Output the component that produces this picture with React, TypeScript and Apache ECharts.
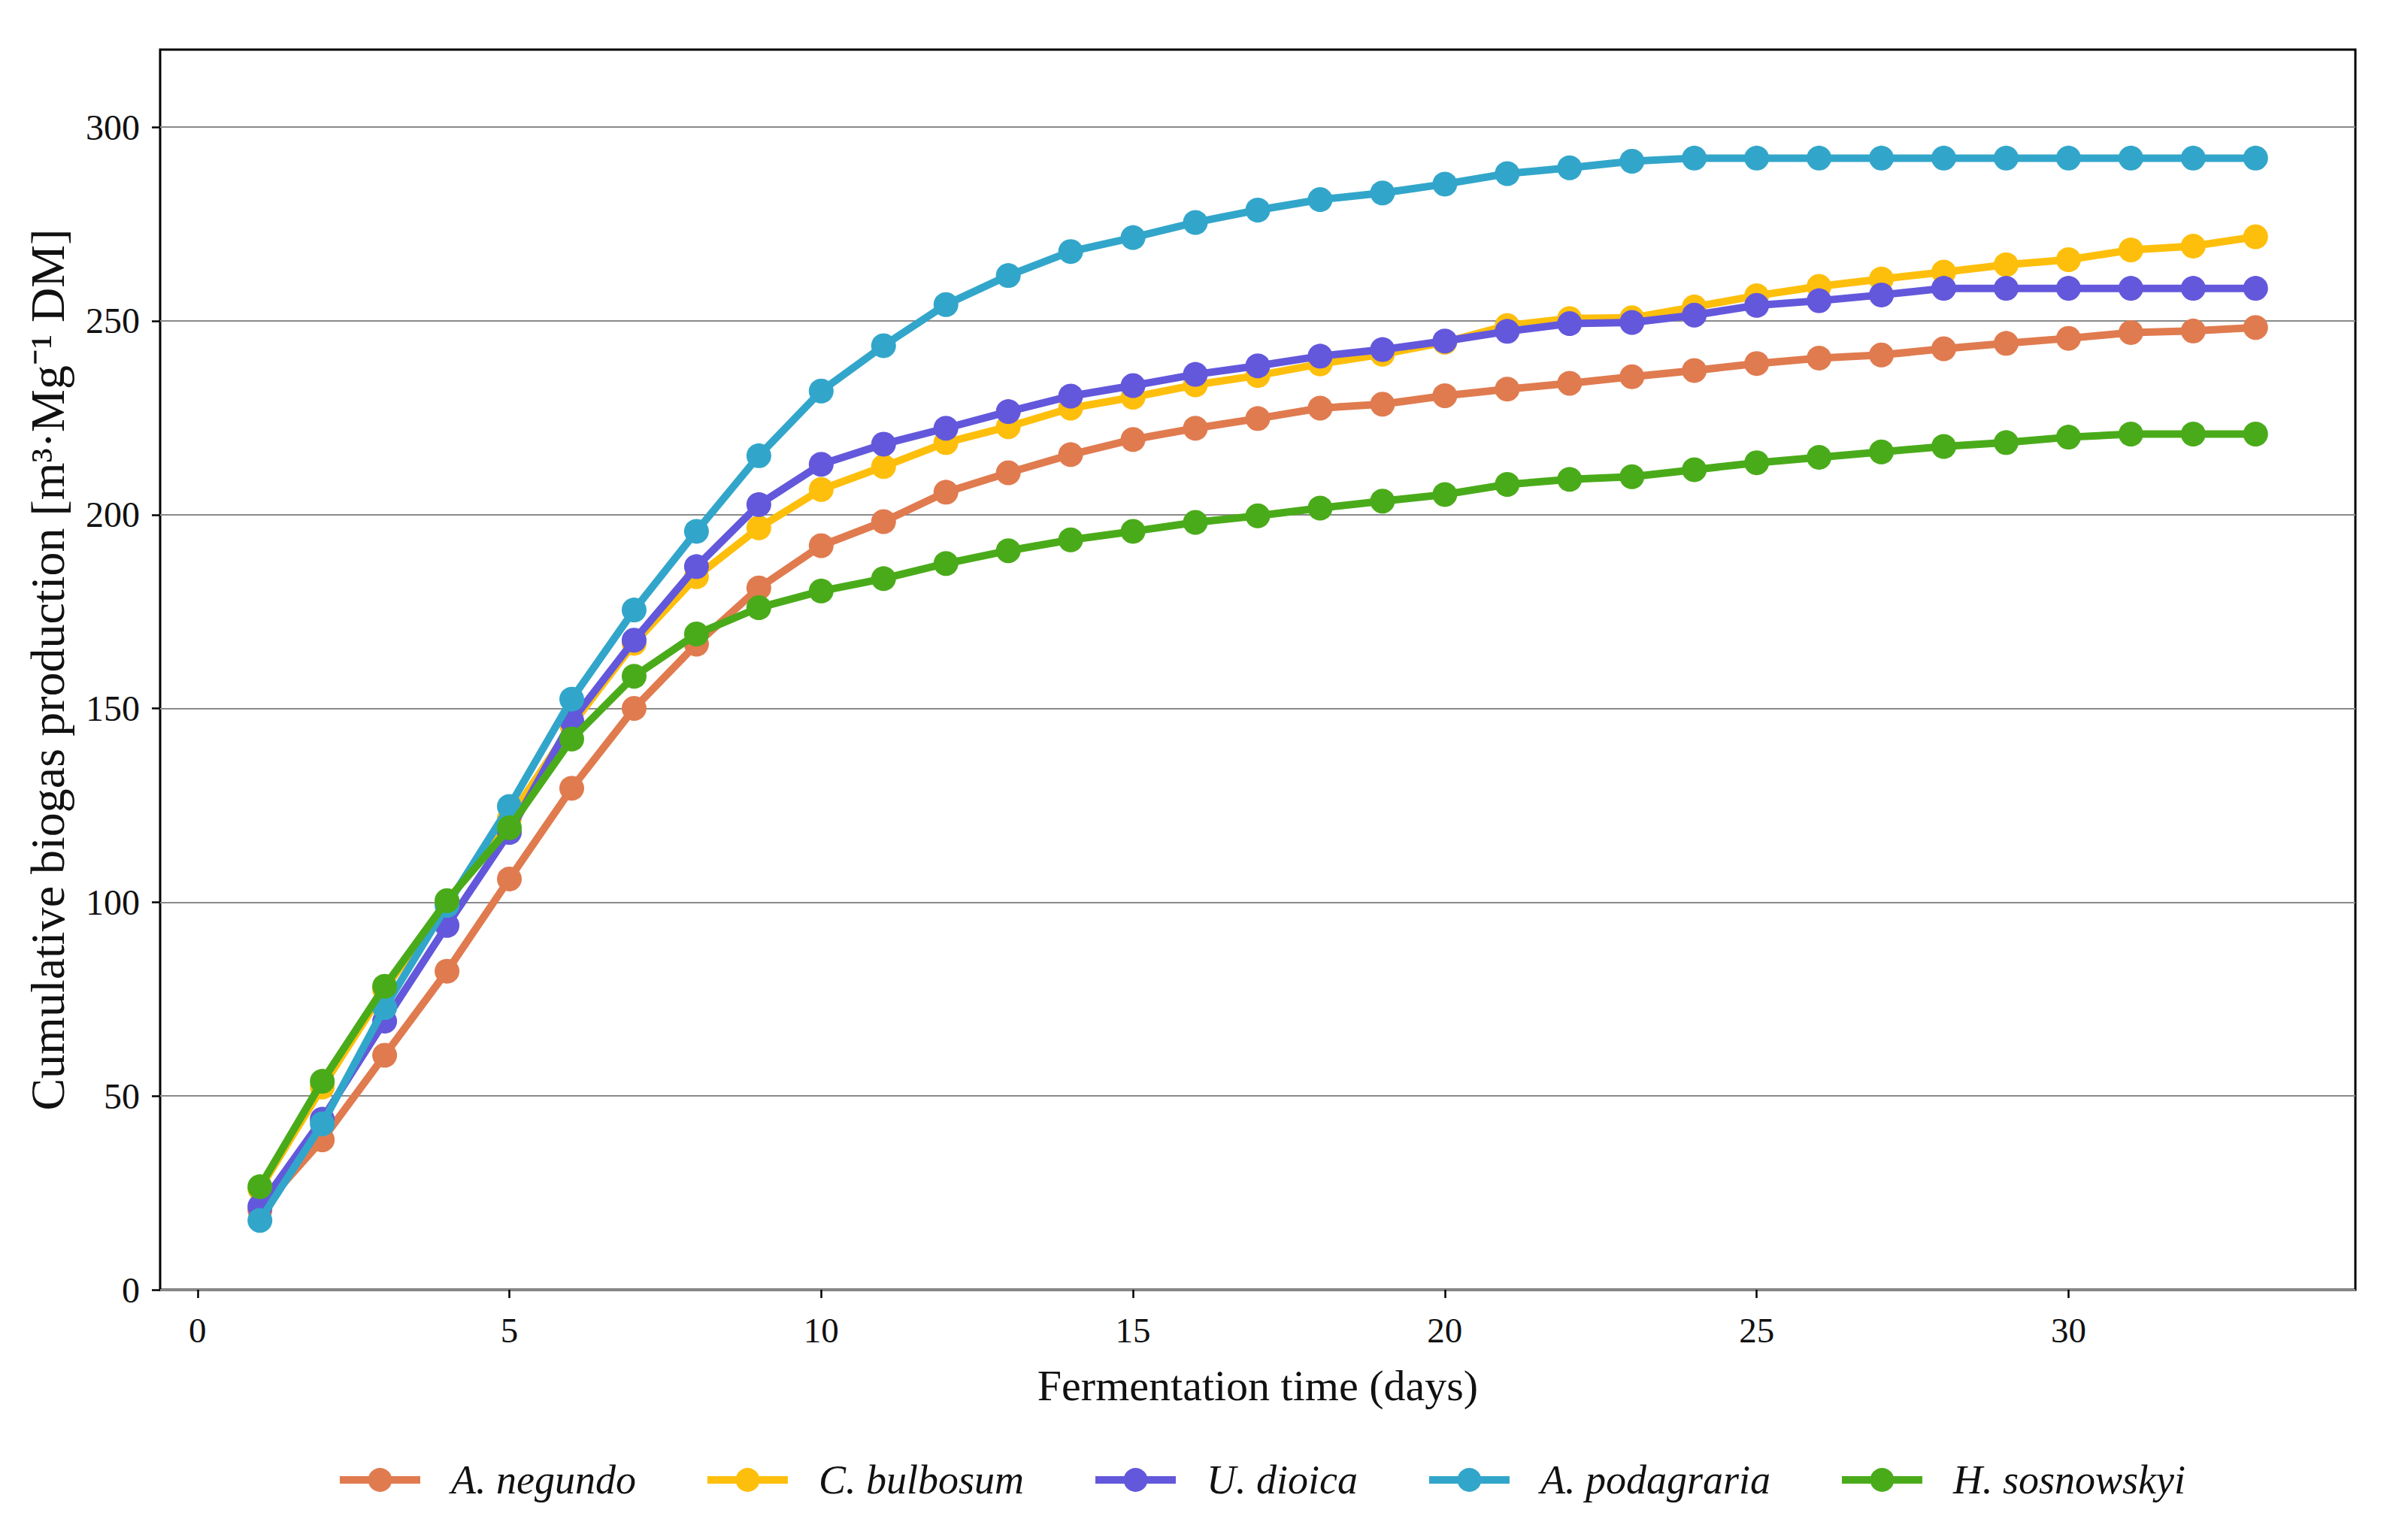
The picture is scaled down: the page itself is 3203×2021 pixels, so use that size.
import React, { useEffect, useRef } from "react";
import * as echarts from "echarts";

const days = [1, 2, 3, 4, 5, 6, 7, 8, 9, 10, 11, 12, 13, 14, 15, 16, 17, 18, 19, 20, 21, 22, 23, 24, 25, 26, 27, 28, 29, 30, 31, 32, 33];

const aNegundo = [20.5, 38.7, 60.5, 82.2, 106, 129.4, 150, 166.6, 181.1, 192, 198.2, 205.8, 210.8, 215.5, 219.4, 222.3, 224.8, 227.5, 228.5, 230.7, 232.4, 233.9, 235.6, 237.2, 239, 240.4, 241.2, 242.8, 244.2, 245.5, 247, 247.4, 248.3];
const cBulbosum = [26, 52.3, 77.5, 100, 121.6, 145.7, 166.8, 184, 196.6, 206.5, 212.4, 218.6, 222.7, 227.5, 230.3, 233.5, 235.9, 238.9, 241.4, 244.5, 248.8, 250.6, 250.8, 253.6, 256.5, 258.9, 260.8, 262.6, 264.5, 265.8, 268.3, 269.3, 271.7];
const uDioica = [21.5, 44, 69.3, 94, 118, 146.8, 167.6, 186.6, 202.6, 213, 218.2, 222.3, 226.6, 230.6, 233.3, 236.2, 238.4, 240.9, 242.6, 244.8, 247.3, 249.3, 249.6, 251.5, 254, 255.2, 256.7, 258.4, 258.4, 258.4, 258.4, 258.4, 258.4];
const aPodagraria = [17.9, 42.8, 72.8, 99.2, 124.7, 152.4, 175.4, 195.7, 215.2, 231.9, 243.6, 254.2, 261.7, 267.9, 271.5, 275.4, 278.6, 281.3, 283, 285.3, 288, 289.5, 291.2, 292, 292, 292, 292, 292, 292, 292, 292, 292, 292];
const hSosnowskyi = [26.6, 53.8, 78.3, 100.4, 119.2, 142.1, 158.3, 169.2, 176, 180.3, 183.5, 187.4, 190.7, 193.5, 195.7, 198, 199.7, 201.7, 203.5, 205.2, 207.8, 209.1, 209.8, 211.6, 213.4, 214.8, 216.2, 217.6, 218.6, 220, 220.8, 220.8, 220.8];

const seriesNames = ["A. negundo", "C. bulbosum", "U. dioica", "A. podagraria", "H. sosnowskyi"];
const seriesValues = [aNegundo, cBulbosum, uDioica, aPodagraria, hSosnowskyi];
const seriesColors = ["#E07B4F", "#FEBF0C", "#6358DB", "#32A6CA", "#4AAB1A"];

const xTicks = [0, 5, 10, 15, 20, 25, 30];
const yTicks = [0, 50, 100, 150, 200, 250, 300];

const FONT = "Liberation Serif";

export default function App() {
  const ref = useRef<HTMLDivElement>(null);
  useEffect(() => {
    if (!ref.current) return;
    const chart = echarts.init(ref.current, null, { renderer: "svg" });
    const series = seriesNames.map((name, k) => ({
      name,
      type: "line",
      data: days.map((d, i) => [d, seriesValues[k][i]]),
      symbol: "circle",
      symbolSize: 33,
      color: seriesColors[k],
      lineStyle: { width: 10, color: seriesColors[k] },
      itemStyle: { color: seriesColors[k] },
      z: 2 + k,
    }));
    chart.setOption({
      animation: false,
      backgroundColor: "#ffffff",
      grid: {
        left: 213,
        right: 70,
        top: 66,
        bottom: 305,
        show: true,
        borderColor: "#000000",
        borderWidth: 3,
        containLabel: false,
      },
      legend: {
        data: seriesNames,
        left: 442,
        top: 1934,
        itemWidth: 107,
        itemHeight: 40,
        itemGap: 90,
        lineStyle: { width: 10 },
        textStyle: {
          fontFamily: FONT,
          fontStyle: "italic",
          fontSize: 54,
          color: "#111111",
          padding: [0, 0, 0, 36],
          lineHeight: 60,
        },
      },
      xAxis: {
        type: "value",
        min: -0.6,
        max: 34.6,
        name: "Fermentation time (days)",
        nameLocation: "middle",
        nameGap: 98,
        nameTextStyle: { fontFamily: FONT, fontSize: 58, color: "#111111" },
        axisLine: { show: false, onZero: false },
        axisTick: {
          show: true,
          inside: false,
          length: 11,
          lineStyle: { color: "#000000", width: 2.5 },
          customValues: xTicks,
        },
        axisLabel: {
          fontFamily: FONT,
          fontSize: 47,
          color: "#111111",
          margin: 30,
          customValues: xTicks,
        },
        splitLine: { show: false },
      },
      yAxis: {
        type: "value",
        min: 0,
        max: 320,
        interval: 50,
        name: "Cumulative biogas production [m³·Mg⁻¹ DM]",
        nameLocation: "middle",
        nameGap: 118,
        nameTextStyle: { fontFamily: FONT, fontSize: 64, color: "#111111" },
        axisLine: { show: false, onZero: false },
        axisTick: {
          show: true,
          inside: false,
          length: 11,
          lineStyle: { color: "#000000", width: 2.5 },
          customValues: yTicks,
        },
        axisLabel: {
          fontFamily: FONT,
          fontSize: 48,
          color: "#111111",
          margin: 27,
          customValues: yTicks,
        },
        splitLine: { show: true, lineStyle: { color: "#8a8a8a", width: 2.2 } },
      },
      series,
    });
    return () => chart.dispose();
  }, []);
  return (
    <div
      ref={ref}
      style={{ position: "absolute", left: 0, top: 0, width: 3203, height: 2021, background: "#fff" }}
    />
  );
}
